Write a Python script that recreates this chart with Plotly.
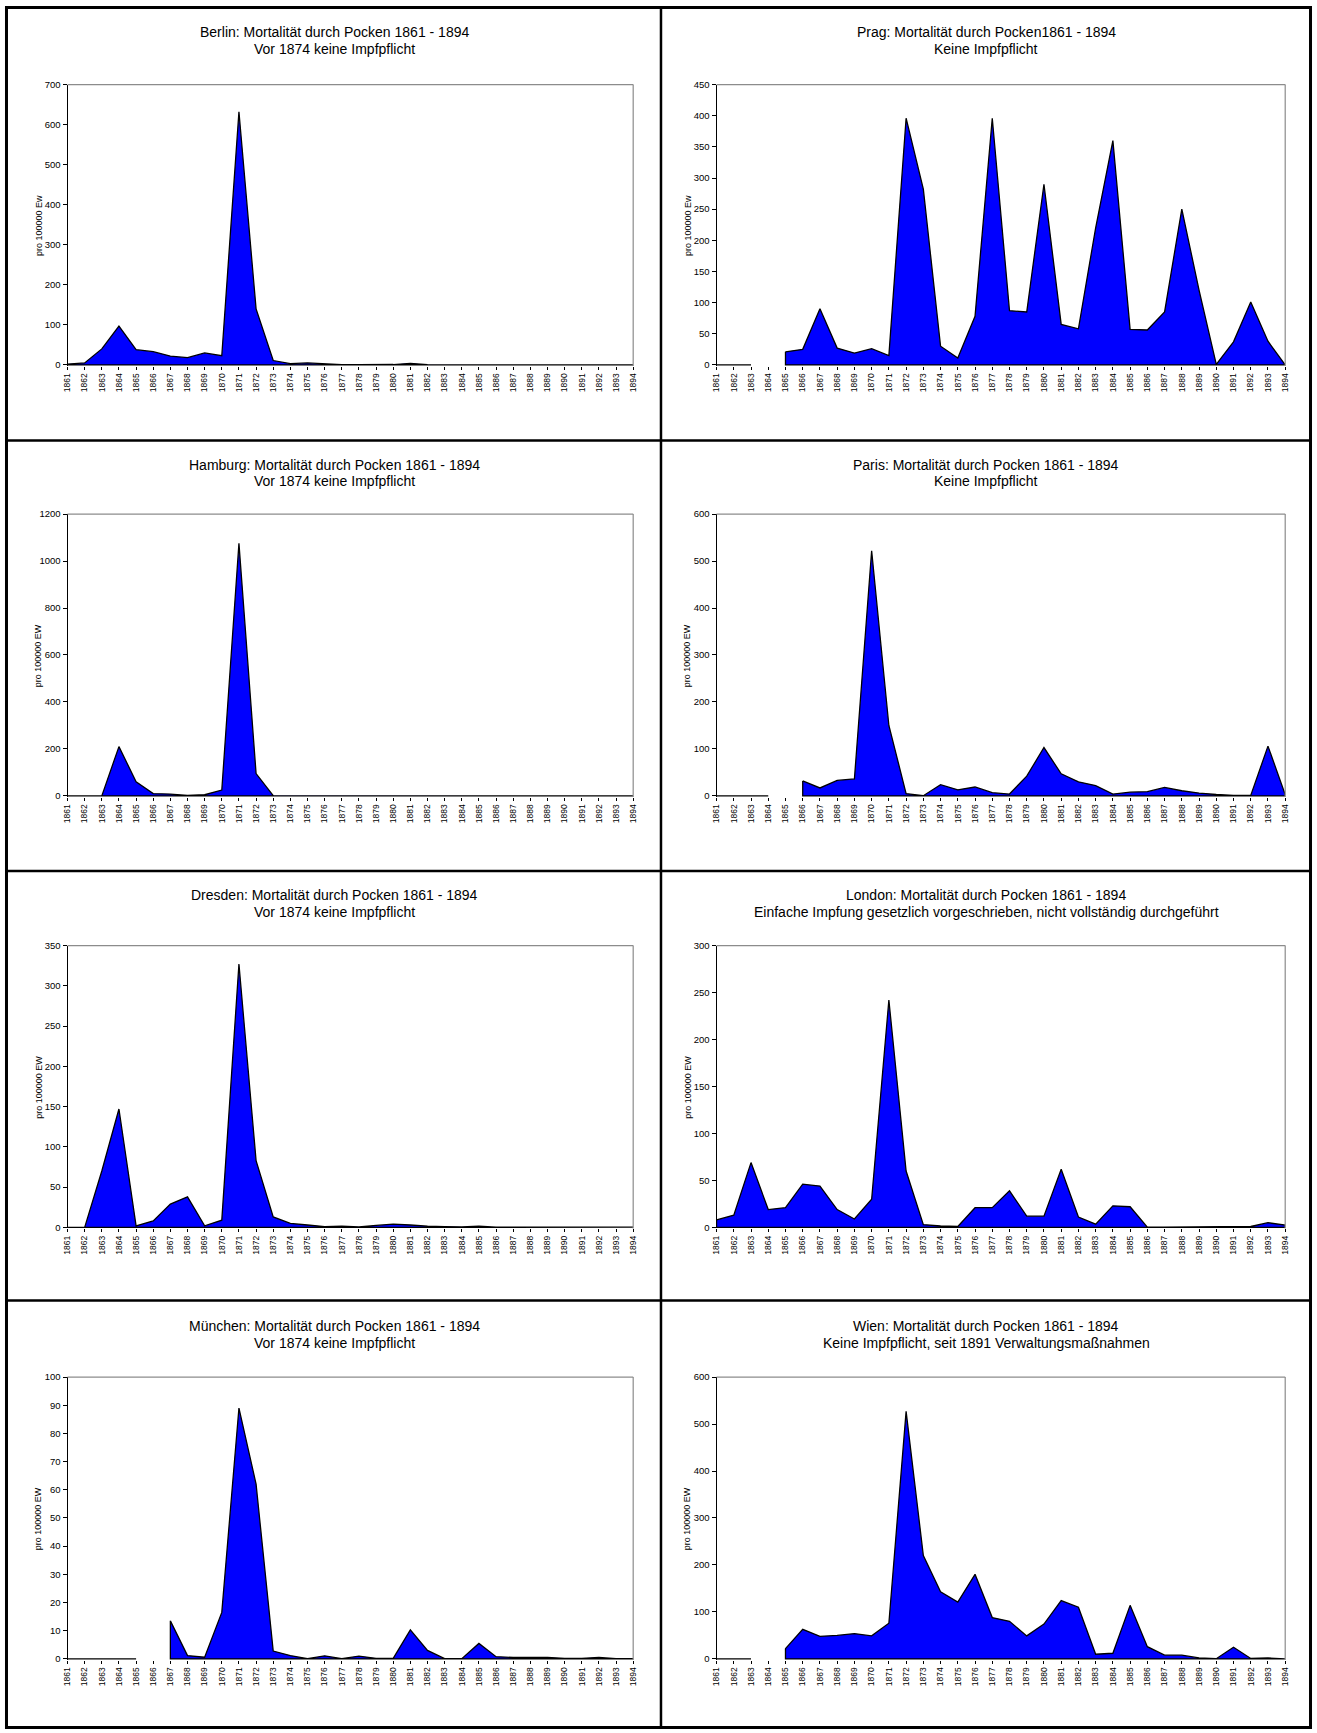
import plotly.graph_objects as go

W, H = 1317, 1733

years = list(range(1861, 1895))
year_labels = [str(y) for y in years]

berlin = [2, 5, 40, 97, 38, 33, 22, 18, 30, 23, 632, 140, 11, 3, 5, 2, 0.5, 0.5, 0.5, 1, 4, 0.5,
          0.3, 0.3, 0.3, 0.3, 0.3, 0.3, 0.3, 0.3, 0.3, 0.3, 0.3, 0.3]
prag = [0, 0, 0, None, 21, 25, 90, 27, 19, 26, 15, 396, 282, 30, 11, 78, 396, 87, 85, 290, 65, 58,
        220, 360, 57, 56, 85, 250, 120, 1, 37, 101, 38, 1]
hamburg = [0, 0, 0, 210, 60, 10, 8, 2, 5, 25, 1075, 95, 1,
           0.5, 0.5, 0.5, 0.5, 0.5, 0.5, 0.5, 0.5, 0.5, 0.5, 0.5, 0.5, 0.5, 0.5, 0.5, 0.5, 0.5, 0.5, 0.5, 0.5, 0.5]
paris = [0, 0, 0, 0, None, 32, 17, 33, 36, 522, 150, 5, 0.5, 24, 13, 19, 7, 4, 42, 103, 47, 30, 22,
         4, 8, 9, 18, 11, 6, 3, 1, 1, 106, 3]
dresden = [0, 0, 70, 147, 2, 8, 29, 38, 2, 9, 327, 83, 13, 5, 3, 1, 1.5, 0.5, 2.5, 4, 3, 1.5, 1, 0.5, 1.5,
           0.3, 0.3, 0.3, 0.3, 0.3, 0.3, 0.3, 0.3, 0.3]
london = [8, 13, 69, 19, 21, 46, 44, 19, 9, 30, 242, 60, 3, 1.5, 1, 21, 21, 39, 12, 12, 62, 11, 3.5,
          23, 22, 0.3, 0.2, 0.2, 0.2, 0.2, 0.2, 1, 5, 2.5]
muenchen = [0, 0, 0, 0, 0, None, 13.5, 1.2, 0.6, 16.5, 89, 62, 2.8, 1.2, 0.1, 1.1, 0.1, 1, 0.2, 0.2,
            10.3, 3, 0.1, 0.1, 5.5, 0.8, 0.5, 0.5, 0.5, 0.2, 0.2, 0.5, 0.1, 0.1]
wien = [0, 0, 0, None, 22, 63, 48, 50, 54, 49, 76, 527, 220, 143, 121, 180, 88, 80, 49, 74, 124, 110,
        10, 12, 114, 26, 8, 8, 2, 0.5, 25, 1, 2, 0.5]

titles_line1 = [
    "Berlin: Mortalität durch Pocken 1861 - 1894",
    "Prag: Mortalität durch Pocken1861 - 1894",
    "Hamburg: Mortalität durch Pocken 1861 - 1894",
    "Paris: Mortalität durch Pocken 1861 - 1894",
    "Dresden: Mortalität durch Pocken 1861 - 1894",
    "London: Mortalität durch Pocken 1861 - 1894",
    "München: Mortalität durch Pocken 1861 - 1894",
    "Wien: Mortalität durch Pocken 1861 - 1894",
]
titles_line2 = [
    "Vor 1874 keine Impfpflicht",
    "Keine Impfpflicht",
    "Vor 1874 keine Impfpflicht",
    "Keine Impfpflicht",
    "Vor 1874 keine Impfpflicht",
    "Einfache Impfung gesetzlich vorgeschrieben, nicht vollständig durchgeführt",
    "Vor 1874 keine Impfpflicht",
    "Keine Impfpflicht, seit 1891 Verwaltungsmaßnahmen",
]
y_titles = ["pro 100000 Ew", "pro 100000 Ew", "pro 100000 EW", "pro 100000 EW",
            "pro 100000 EW", "pro 100000 EW", "pro 100000 EW", "pro 100000 EW"]
y_max = [700, 450, 1200, 600, 350, 300, 100, 600]
y_step = [100, 50, 200, 100, 50, 50, 10, 100]
series = [berlin, prag, hamburg, paris, dresden, london, muenchen, wien]

# layout geometry (pixels)
col_x = [(63, 633), (717, 1290)]
row_y = [(79, 362), (511, 795.5), (945, 1229.5), (1379, 1663.5)]
title_y = [(26.5, 43.5), (461.5, 478), (894.5, 911), (1328, 1345)]
panel_cx = [332, 989]
ytitle_x = [34, 688]

FONT = "Arial, 'Liberation Sans', sans-serif"


def px(x):
    return x / W


def py(y):
    return 1 - y / H


def runs(xs, ys):
    """Split a series into contiguous runs without missing values."""
    out, cx, cy = [], [], []
    for x, y in zip(xs, ys):
        if y is None:
            if cx:
                out.append((cx, cy))
            cx, cy = [], []
        else:
            cx.append(x)
            cy.append(y)
    if cx:
        out.append((cx, cy))
    return out


fig = go.Figure()
shapes = []
annotations = []

for i in range(8):
    r, c = divmod(i, 2)
    n = i + 1
    xa = "x" if n == 1 else f"x{n}"
    ya = "y" if n == 1 else f"y{n}"
    x0, x1 = col_x[c]
    y0, y1 = row_y[r]
    for sx, sy in runs(years, series[i]):
        # closed area polygon (data line + baseline), outlined like an Excel area chart
        poly_x = sx + [sx[-1], sx[0], sx[0]]
        poly_y = sy + [0, 0, sy[0]]
        fig.add_trace(go.Scatter(
            x=poly_x, y=poly_y, xaxis=xa, yaxis=ya, mode="lines",
            fill="toself", fillcolor="#0000FF",
            line=dict(color="black", width=1.3),
            hoverinfo="skip", showlegend=False,
        ))
    xkey = "xaxis" if n == 1 else f"xaxis{n}"
    ykey = "yaxis" if n == 1 else f"yaxis{n}"
    pad = y_max[i] / (y1 - y0)  # about one pixel below zero so the baseline stays visible
    fig.layout[xkey] = dict(
        domain=[px(x0), px(x1)], anchor=ya, range=[1861, 1894],
        tickmode="array", tickvals=years, ticktext=year_labels, tickangle=-90,
        tickfont=dict(size=8.5, family=FONT, color="black"),
        ticks="outside", ticklen=3, tickcolor="black", tickwidth=1,
        showline=False, showgrid=False, zeroline=False, fixedrange=True,
    )
    fig.layout[ykey] = dict(
        domain=[py(y1), py(y0)], anchor=xa, range=[-pad, y_max[i]],
        tickmode="linear", tick0=0, dtick=y_step[i],
        tickfont=dict(size=9.5, family=FONT, color="black"),
        ticks="outside", ticklen=4, tickcolor="black", tickwidth=1,
        showline=True, linecolor="black", linewidth=1,
        showgrid=False, zeroline=False, fixedrange=True,
    )
    # gray frame top and right
    shapes.append(dict(type="line", xref="paper", yref="paper",
                       x0=px(x0), x1=px(x1), y0=py(y0), y1=py(y0),
                       line=dict(color="#8c8c8c", width=1.2)))
    shapes.append(dict(type="line", xref="paper", yref="paper",
                       x0=px(x1), x1=px(x1), y0=py(y0), y1=py(y1),
                       line=dict(color="#8c8c8c", width=1.2)))
    # titles
    t1, t2 = title_y[r]
    annotations.append(dict(text=titles_line1[i], xref="paper", yref="paper",
                            x=px(panel_cx[c]), y=py(t1), xanchor="center", yanchor="middle",
                            showarrow=False, font=dict(size=14, family=FONT, color="black")))
    annotations.append(dict(text=titles_line2[i], xref="paper", yref="paper",
                            x=px(panel_cx[c]), y=py(t2), xanchor="center", yanchor="middle",
                            showarrow=False, font=dict(size=14, family=FONT, color="black")))
    annotations.append(dict(text=y_titles[i], xref="paper", yref="paper",
                            x=px(ytitle_x[c]), y=py((y0 + y1) / 2), xanchor="center", yanchor="middle",
                            textangle=-90, showarrow=False,
                            font=dict(size=9, family=FONT, color="black")))

# panel borders
shapes.append(dict(type="rect", xref="paper", yref="paper",
                   x0=px(1.5), x1=px(W - 1.5), y0=py(1.5), y1=py(H - 1.5),
                   line=dict(color="black", width=3)))
shapes.append(dict(type="line", xref="paper", yref="paper",
                   x0=px(661), x1=px(661), y0=0, y1=1, line=dict(color="black", width=2.5)))
for yy in [437, 870, 1302]:
    shapes.append(dict(type="line", xref="paper", yref="paper",
                       x0=0, x1=1, y0=py(yy), y1=py(yy), line=dict(color="black", width=2.5)))

fig.update_layout(
    width=W, height=H, margin=dict(l=0, r=0, t=0, b=0),
    paper_bgcolor="white", plot_bgcolor="white",
    font=dict(family=FONT, color="black"),
    showlegend=False, shapes=shapes, annotations=annotations,
)

fig.write_html(
    "out.html",
    config={"displayModeBar": False},
    post_script="document.body.style.margin='0';document.body.style.padding='0';document.body.style.overflow='hidden';",
)
